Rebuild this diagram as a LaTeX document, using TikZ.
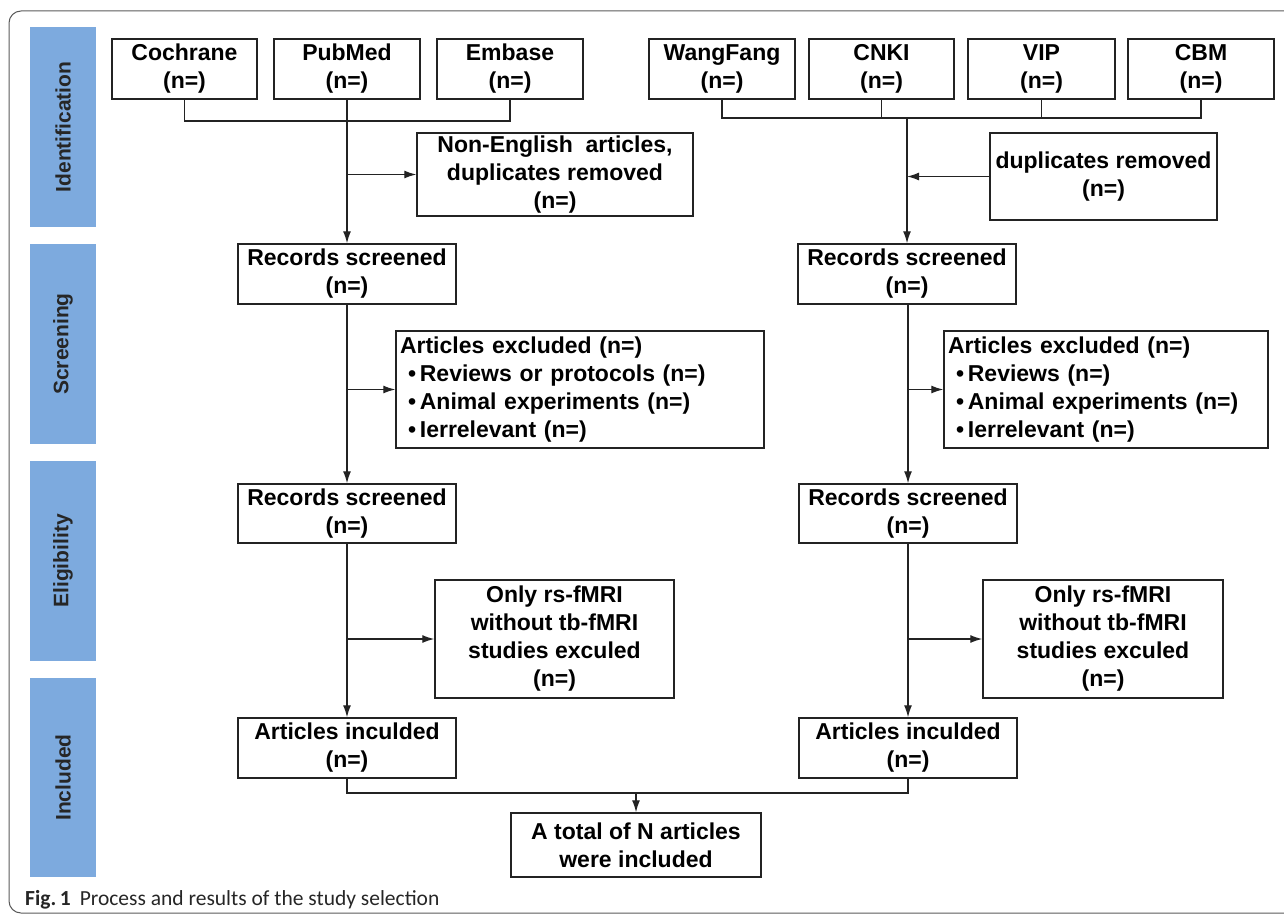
\documentclass[tikz,border=0pt]{standalone}
\usepackage{fontspec}
\setmainfont{Liberation Sans}
\newfontfamily\capfont{Carlito}
\usetikzlibrary{arrows.meta}
\definecolor{barblue}{RGB}{125,170,222}
\definecolor{ln}{RGB}{35,35,35}
\definecolor{frm}{RGB}{90,90,90}
\begin{document}
\begin{tikzpicture}[x=1pt,y=-1pt,
 box/.style={draw=ln, line width=1.4pt, fill=white, inner sep=0pt, align=center,
   font=\fontsize{23}{28}\selectfont\bfseries, text=black},
 src/.style={box, minimum width=146pt, minimum height=60pt},
 mid/.style={box, minimum width=218pt, minimum height=60pt},
 lst/.style={box, align=left, minimum height=117pt, inner xsep=4pt},
 bar/.style={fill=barblue, minimum height=66pt, inner sep=0pt, rotate=90,
   font=\fontsize{21}{24}\selectfont\bfseries, text=black!85},
 conn/.style={draw=ln, line width=1.3pt},
 arr/.style={conn, -{Latex[length=12pt,width=8pt]}},
]
\useasboundingbox (0,0) rectangle (1284,915);
% frame
\draw[frm, line width=1pt, rounded corners=12pt] (1300,11) -- (9,11) -- (9,913) -- (1300,913);

% stage bars
\node[bar, minimum width=200pt] (b1) at (63,127) {Identification};
\node[bar, minimum width=200pt] (b2) at (63,344) {Screening};
\node[bar, minimum width=200pt] (b3) at (63,561) {Eligibility};
\node[bar, minimum width=199pt] (b4) at (63,777.5) {Included};

% sources
\node[src, minimum width=145pt] (coch) at (184.5,69) {Cochrane\\(n=)};
\node[src] (pub) at (347,69) {PubMed\\(n=)};
\node[src] (emb) at (510,69) {Embase\\(n=)};
\node[src] (wf) at (722,69) {WangFang\\(n=)};
\node[src, minimum width=145pt] (cnki) at (881.5,69) {CNKI\\(n=)};
\node[src, minimum width=147pt] (vip) at (1041.5,69) {VIP\\(n=)};
\node[src] (cbm) at (1201,69) {CBM\\(n=)};

% removal boxes
\node[box, minimum width=276pt, minimum height=83pt] (ne) at (555,174.5)
  {Non-English\ \ articles,\\duplicates removed\\(n=)};
\node[box, minimum width=227pt, minimum height=87pt] (dup) at (1103.5,176.5)
  {duplicates removed\\(n=)};

% records screened
\node[mid] (rsL) at (347,274) {Records screened\\(n=)};
\node[mid] (rsR) at (907,274) {Records screened\\(n=)};

% exclusions
\node[lst, minimum width=368pt, text width=360pt] (exL) at (580,389.5)
  {Articles excluded (n=)\\
   \hspace*{8pt}\textbullet\,Reviews or protocols (n=)\\
   \hspace*{8pt}\textbullet\,Animal experiments (n=)\\
   \hspace*{8pt}\textbullet\,Ierrelevant (n=)};
\node[lst, minimum width=324pt, text width=316pt] (exR) at (1106,389.5)
  {Articles excluded (n=)\\
   \hspace*{8pt}\textbullet\,Reviews (n=)\\
   \hspace*{8pt}\textbullet\,Animal experiments (n=)\\
   \hspace*{8pt}\textbullet\,Ierrelevant (n=)};

% eligibility
\node[mid, minimum height=59pt] (r2L) at (347,513.5) {Records screened\\(n=)};
\node[mid, minimum height=59pt] (r2R) at (908,513.5) {Records screened\\(n=)};
\node[box, minimum width=239pt, minimum height=118pt] (onL) at (554.5,639)
  {Only rs-fMRI\\without tb-fMRI\\studies exculed\\(n=)};
\node[box, minimum width=240pt, minimum height=118pt] (onR) at (1103,639)
  {Only rs-fMRI\\without tb-fMRI\\studies exculed\\(n=)};

% included
\node[mid] (inL) at (347,748) {Articles inculded\\(n=)};
\node[mid] (inR) at (908,748) {Articles inculded\\(n=)};
\node[box, minimum width=250pt, minimum height=64pt] (tot) at (636,845)
  {A total of N articles\\were included};

% caption
\node[anchor=base west, inner sep=0pt, text=black!85,
  font=\capfont\fontsize{21.5}{24}\selectfont] (cap) at (25,905)
  {\textbf{Fig.\,1}\hspace{9pt}Process and results of the study selection};

% junction coordinates
\coordinate (jL) at (347,121);
\coordinate (jR) at (907,118);
\coordinate (mg) at (636,793);

% left identification
\draw[conn] (coch.south) |- (jL);
\draw[conn] (emb.south) |- (jL);
\draw[arr] (pub.south) -- (rsL.north);
\draw[arr] (pub.south |- ne.west) -- (ne.west);

% right identification
\draw[conn] (wf.south) |- (jR);
\draw[conn] (cbm.south) |- (jR);
\draw[conn] (cnki.south) -- (cnki.south |- jR);
\draw[conn] (vip.south) -- (vip.south |- jR);
\draw[arr] (jR) -- (rsR.north);
\draw[arr] (dup.west) -- (jR |- dup.west);

% screening
\draw[arr] (rsL.south) -- (r2L.north);
\draw[arr] (rsL.south |- exL.west) -- (exL.west);
\draw[arr] (rsR.south -| r2R.north) -- (r2R.north);
\draw[arr] (r2R.north |- exR.west) -- (exR.west);

% eligibility
\draw[arr] (r2L.south) -- (inL.north);
\draw[arr] (r2L.south |- onL.west) -- (onL.west);
\draw[arr] (r2R.south) -- (inR.north);
\draw[arr] (r2R.south |- onR.west) -- (onR.west);

% merge
\draw[conn] (inL.south) |- (mg);
\draw[conn] (inR.south) |- (mg);
\draw[arr] (mg) -- (tot.north);
\end{tikzpicture}
\end{document}
